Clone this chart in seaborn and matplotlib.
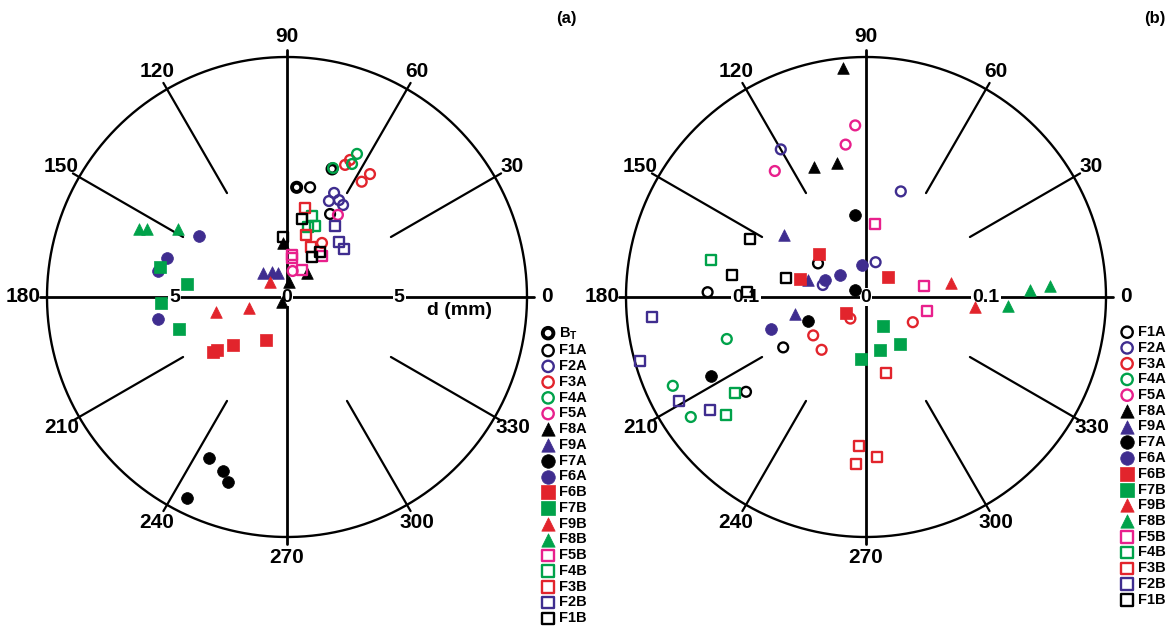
import numpy as np
import matplotlib
matplotlib.use("Agg")
import matplotlib.pyplot as plt
import seaborn as sns

# ---------------- data (x = d cos(theta), y = d sin(theta)) ----------------
# panel (a): d in mm
a_BT  = ([0.43, 2.01], [4.89, 5.71])
a_F1A = ([1.03, 1.92], [4.89, 3.70])
a_F2A = ([2.10, 1.87, 2.32, 2.50], [4.64, 4.28, 4.32, 4.10])
a_F3A = ([2.59, 2.81, 3.33, 3.70, 1.56], [5.89, 6.11, 5.14, 5.48, 2.41])
a_F4A = ([2.05, 2.90, 3.12], [5.75, 5.93, 6.38])
a_F5A = ([2.27, 0.25], [3.66, 1.16])
a_F8A = ([-0.18, 0.09, -0.24, 0.88], [2.41, 0.67, -0.21, 1.07])
a_F9A = ([-1.07, -0.68, -0.40], [1.08, 1.13, 1.08])
a_F7A = ([-3.48, -2.85, -2.61, -4.48], [-7.18, -7.76, -8.25, -8.96])
a_F6A = ([-3.92, -5.36, -5.75, -5.76], [2.73, 1.75, 1.16, -0.98])
a_F6B = ([-3.30, -3.12, -2.41, -0.94], [-2.44, -2.36, -2.14, -1.92])
a_F7B = ([-5.66, -4.46, -5.62, -4.81], [1.35, 0.58, -0.25, -1.43])
a_F9B = ([-3.17, -1.69, -0.76], [-0.66, -0.48, 0.66])
a_F8B = ([-6.60, -6.25, -4.86], [3.03, 3.03, 3.03])
a_F5B = ([0.21, 0.21, 0.66, 1.55], [1.87, 1.73, 1.20, 1.83])
a_F4B = ([1.11, 1.25, 0.94], [3.61, 3.17, 3.12])
a_F3B = ([0.80, 0.85, 1.07], [3.97, 2.76, 2.23])
a_F2B = ([2.12, 2.32, 2.54], [3.17, 2.45, 2.14])
a_F1B = ([0.66, -0.18, 1.10, 1.47], [3.48, 2.67, 1.80, 2.01])

# panel (b)
b_F1A = ([-0.040, -0.132, -0.069, -0.100], [0.028, 0.004, -0.042, -0.079])
b_F2A = ([-0.071, 0.029, 0.008, -0.036], [0.123, 0.088, 0.029, 0.010])
b_F3A = ([-0.013, -0.044, -0.037, 0.039], [-0.018, -0.032, -0.044, -0.021])
b_F4A = ([-0.116, -0.161, -0.146], [-0.035, -0.074, -0.100])
b_F5A = ([-0.009, -0.017, -0.076], [0.143, 0.127, 0.105])
b_F8A = ([-0.019, -0.043, -0.024], [0.191, 0.108, 0.112])
b_F9A = ([-0.068, -0.048, -0.059], [0.052, 0.014, -0.014])
b_F7A = ([-0.009, -0.009, -0.048, -0.129], [0.068, 0.006, -0.020, -0.066])
b_F6A = ([-0.003, -0.022, -0.034, -0.079], [0.027, 0.018, 0.014, -0.027])
b_F6B = ([-0.039, -0.055, 0.018, -0.017], [0.036, 0.015, 0.017, -0.013])
b_F7B = ([0.014, 0.012, 0.028, -0.004], [-0.024, -0.044, -0.039, -0.052])
b_F9B = ([0.071, 0.091], [0.012, -0.008])
b_F8B = ([0.137, 0.153, 0.118], [0.006, 0.009, -0.0075])
b_F5B = ([0.0075, 0.048, 0.051], [0.061, 0.009, -0.012])
b_F4B = ([-0.129, -0.109, -0.117], [0.031, -0.080, -0.098])
b_F3B = ([0.017, -0.006, 0.009, -0.008], [-0.063, -0.124, -0.133, -0.139])
b_F2B = ([-0.178, -0.188, -0.156, -0.130], [-0.017, -0.053, -0.087, -0.094])
b_F1B = ([-0.097, -0.112, -0.067, -0.099], [0.048, 0.018, 0.016, 0.004])

a_order = ["BT", "F1A", "F2A", "F3A", "F4A", "F5A", "F8A", "F9A", "F7A", "F6A",
           "F6B", "F7B", "F9B", "F8B", "F5B", "F4B", "F3B", "F2B", "F1B"]
b_order = a_order[1:]

a_radius = 10.7
b_radius = 0.2
a_ticks = [-5, 0, 5]
a_ticklabels = ["5", "0", "5"]
b_ticks = [-0.1, 0, 0.1]
b_ticklabels = ["0.1", "0", "0.1"]
angle_labels = [0, 30, 60, 90, 120, 150, 180, 210, 240, 270, 300, 330]

# ---------------- style ----------------
sns.set_style("white")
plt.rcParams['font.family'] = ['Liberation Sans Narrow', 'Liberation Sans', 'DejaVu Sans']
plt.rcParams['font.weight'] = 'bold'
plt.rcParams['text.color'] = 'black'
plt.rcParams['mathtext.fontset'] = 'custom'
plt.rcParams['mathtext.rm'] = 'Liberation Sans:bold'
plt.rcParams['mathtext.bf'] = 'Liberation Sans:bold'

BLACK = "#000000"
PURPLE = "#3f2d8f"
RED = "#e2242c"
GREEN = "#00a24a"
PINK = "#e8208c"

STYLE = {
    "BT":  ("o", BLACK, False, 2.8, 44),
    "F1A": ("o", BLACK, False, 1.7, 50),
    "F2A": ("o", PURPLE, False, 1.7, 50),
    "F3A": ("o", RED, False, 1.7, 50),
    "F4A": ("o", GREEN, False, 1.7, 50),
    "F5A": ("o", PINK, False, 1.7, 50),
    "F8A": ("^", BLACK, True, 0, 70),
    "F9A": ("^", PURPLE, True, 0, 70),
    "F7A": ("o", BLACK, True, 0, 72),
    "F6A": ("o", PURPLE, True, 0, 72),
    "F6B": ("s", RED, True, 0, 70),
    "F7B": ("s", GREEN, True, 0, 70),
    "F9B": ("^", RED, True, 0, 70),
    "F8B": ("^", GREEN, True, 0, 70),
    "F5B": ("s", PINK, False, 1.7, 52),
    "F4B": ("s", GREEN, False, 1.7, 52),
    "F3B": ("s", RED, False, 1.7, 52),
    "F2B": ("s", PURPLE, False, 1.7, 52),
    "F1B": ("s", BLACK, False, 1.7, 52),
}

W, H = 1170, 629
fig = plt.figure(figsize=(W / 100, H / 100), dpi=100)


def draw_panel(ax, R, data, order, ticks, ticklabels, cx, cy, axw):
    scale = 240.0 / R
    ax.set_xlim(-cx / scale, (axw - cx) / scale)
    ax.set_ylim(-(H - cy) / scale, cy / scale)
    ax.axis("off")
    t = np.linspace(0, 2 * np.pi, 400)
    ax.plot(R * np.cos(t), R * np.sin(t), color="black", lw=1.7, zorder=1)
    ax.plot([-1.03 * R, 1.03 * R], [0, 0], color="black", lw=2.0, zorder=1)
    ax.plot([0, 0], [-1.03 * R, 1.03 * R], color="black", lw=2.0, zorder=1)
    for ang in angle_labels:
        th = np.deg2rad(ang)
        if ang % 90 != 0:
            ax.plot([0.5 * R * np.cos(th), 1.03 * R * np.cos(th)],
                    [0.5 * R * np.sin(th), 1.03 * R * np.sin(th)],
                    color="black", lw=1.6, zorder=1)
        rl = 1.10 * R if ang == 180 else 1.085 * R
        ax.text(rl * np.cos(th), rl * np.sin(th), str(ang), fontsize=15,
                fontweight="bold", ha="center", va="center", color="black")
    for tv, tl in zip(ticks, ticklabels):
        ax.text(tv, 0, tl, fontsize=14, fontweight="bold", ha="center",
                va="center", zorder=2, color="black",
                bbox=dict(boxstyle="square,pad=0.05", fc="white", ec="none"))
    handles = []
    for name in order:
        mk, col, filled, lw, s = STYLE[name]
        xs, ys = data[name]
        if filled:
            sns.scatterplot(x=xs, y=ys, ax=ax, marker=mk, s=s, color=col,
                            edgecolor=col, linewidth=0.5, zorder=4,
                            legend=False)
        else:
            sns.scatterplot(x=xs, y=ys, ax=ax, marker=mk, s=s,
                            facecolors="none", edgecolor=col, linewidth=lw,
                            zorder=4, legend=False)
        h = ax.collections[-1]
        h.set_label(r"B$_\mathregular{T}$" if name == "BT" else name)
        handles.append(h)
    return handles


ax_a = fig.add_axes([0, 0, 585 / W, 1])
data_a = {"BT": a_BT, "F1A": a_F1A, "F2A": a_F2A, "F3A": a_F3A, "F4A": a_F4A,
          "F5A": a_F5A, "F8A": a_F8A, "F9A": a_F9A, "F7A": a_F7A, "F6A": a_F6A,
          "F6B": a_F6B, "F7B": a_F7B, "F9B": a_F9B, "F8B": a_F8B, "F5B": a_F5B,
          "F4B": a_F4B, "F3B": a_F3B, "F2B": a_F2B, "F1B": a_F1B}
ha = draw_panel(ax_a, a_radius, data_a, a_order, a_ticks, a_ticklabels, 287, 297, 585)
ax_a.text(7.7, -0.62, "d (mm)", fontsize=14, fontweight="bold", ha="center",
          va="center", color="black")

ax_b = fig.add_axes([585 / W, 0, 585 / W, 1])
data_b = {"F1A": b_F1A, "F2A": b_F2A, "F3A": b_F3A, "F4A": b_F4A,
          "F5A": b_F5A, "F8A": b_F8A, "F9A": b_F9A, "F7A": b_F7A, "F6A": b_F6A,
          "F6B": b_F6B, "F7B": b_F7B, "F9B": b_F9B, "F8B": b_F8B, "F5B": b_F5B,
          "F4B": b_F4B, "F3B": b_F3B, "F2B": b_F2B, "F1B": b_F1B}
hb = draw_panel(ax_b, b_radius, data_b, b_order, b_ticks, b_ticklabels, 281, 297, 585)

leg_kw = dict(frameon=False, fontsize=10.5, handlelength=0.7, handletextpad=0.4,
              labelspacing=0.12, borderpad=0, borderaxespad=0, loc="upper left",
              markerscale=1.15, labelcolor="black")
la = ax_a.legend(handles=ha, labels=[h.get_label() for h in ha],
                 bbox_to_anchor=(543 / W, 1 - 325 / H), bbox_transform=fig.transFigure, **leg_kw)
lb = ax_b.legend(handles=hb, labels=[h.get_label() for h in hb],
                 bbox_to_anchor=(1122 / W, 1 - 325 / H), bbox_transform=fig.transFigure, **leg_kw)

fig.text(566 / W, 1 - 18 / H, "(a)", fontsize=12, fontweight="bold", ha="center",
         va="center", color="black")
fig.text(1155 / W, 1 - 18 / H, "(b)", fontsize=12, fontweight="bold", ha="center",
         va="center", color="black")

fig.savefig("out.png", dpi=100, facecolor="white")
